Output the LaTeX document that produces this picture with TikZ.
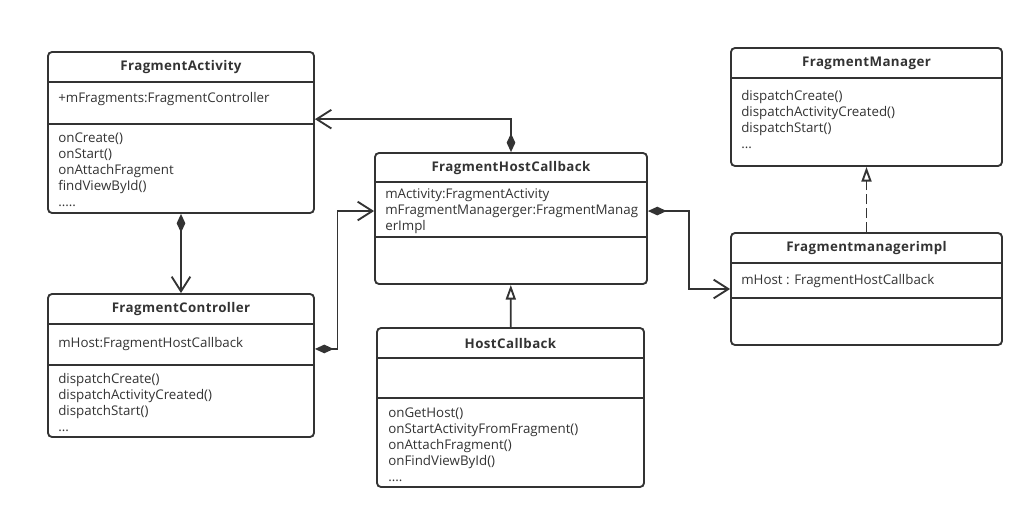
\documentclass[tikz,border=0pt]{standalone}
\usepackage{fontspec}
\setmainfont{Open Sans}
\usetikzlibrary{arrows.meta,fit}
\definecolor{ink}{HTML}{333333}

\begin{document}
\begin{tikzpicture}[x=0.75pt,y=-0.75pt,
    box/.style={draw=ink, line width=1.4pt, rounded corners=3pt, inner sep=0pt},
    sep/.style={draw=ink, line width=1.4pt},
    head/.style={font=\fontsize{10}{12}\selectfont\bfseries\addfontfeature{LetterSpace=3}, text=ink, inner sep=0pt},
    body/.style={font=\fontsize{10}{12}\selectfont, text=ink, anchor=base west, inner sep=0pt},
    comp/.style={draw=ink, line width=1.4pt, {Diamond[length=14pt,width=6.5pt]}-{Straight Barb[length=11pt,width=14pt]}},
    inherit/.style={draw=ink, line width=1.4pt, -{Triangle[open, length=11pt, width=7.5pt]}},
    realize/.style={inherit, dash pattern=on 7.5pt off 3pt},
  ]
  \useasboundingbox (0,0) rectangle (1035,520);

  % FragmentActivity
  \node[box, fit={(48,52)(314,213)}] (fa) {};
  \draw[sep] (fa.west |- 0,82) -- (fa.east |- 0,82) (fa.west |- 0,124) -- (fa.east |- 0,124);
  \node[head] (fa-t) at (fa.north |- 0,67) {FragmentActivity};
  \node[body] (fa-a) at (58,103) {+mFragments:FragmentController};
  \foreach \t [count=\i] in {onCreate(),onStart(),onAttachFragment,findViewById()}
    \node[body] (fa-m\i) at (58,127+16*\i) {\t};
  \node[body] (fa-m5) at (58,207) {.....};

  % FragmentController
  \node[box, fit={(48,294)(314,437)}] (fc) {};
  \draw[sep] (fc.west |- 0,324) -- (fc.east |- 0,324) (fc.west |- 0,365) -- (fc.east |- 0,365);
  \node[head] (fc-t) at (fc.north |- 0,309) {FragmentController};
  \node[body] (fc-a) at (58,347) {mHost:FragmentHostCallback};
  \foreach \t [count=\i] in {dispatchCreate(),dispatchActivityCreated(),dispatchStart()}
    \node[body] (fc-m\i) at (58,367+16*\i) {\t};
  \node[body] (fc-m4) at (58,431) {...};

  % FragmentHostCallback
  \node[box, fit={(375,153)(647,284)}] (fhc) {};
  \draw[sep] (fhc.west |- 0,182) -- (fhc.east |- 0,182) (fhc.west |- 0,237) -- (fhc.east |- 0,237);
  \node[head] (fhc-t) at (fhc.north |- 0,168) {FragmentHostCallback};
  \foreach \t [count=\i] in {mActivity:FragmentActivity,mFragmentManagerger:FragmentManag,erImpl}
    \node[body] (fhc-a\i) at (385,183+16*\i) {\t};

  % HostCallback
  \node[box, fit={(377,328)(644,487)}] (hc) {};
  \draw[sep] (hc.west |- 0,358) -- (hc.east |- 0,358) (hc.west |- 0,398) -- (hc.east |- 0,398);
  \node[head] (hc-t) at (hc.north |- 0,343) {HostCallback};
  \foreach \t [count=\i] in {onGetHost(),onStartActivityFromFragment(),onAttachFragment(),onFindViewById()}
    \node[body] (hc-m\i) at (388,401+16*\i) {\t};
  \node[body] (hc-m5) at (388,481) {....};

  % FragmentManager
  \node[box, fit={(731,48)(1002,166)}] (fm) {};
  \draw[sep] (fm.west |- 0,78) -- (fm.east |- 0,78);
  \node[head] (fm-t) at (fm.north |- 0,63) {FragmentManager};
  \foreach \t [count=\i] in {dispatchCreate(),dispatchActivityCreated(),dispatchStart()}
    \node[body] (fm-m\i) at (741,85+16*\i) {\t};
  \node[body] (fm-m4) at (741,149) {...};

  % Fragmentmanagerimpl
  \node[box, fit={(731,233)(1002,345)}] (fmi) {};
  \draw[sep] (fmi.west |- 0,263) -- (fmi.east |- 0,263) (fmi.west |- 0,298) -- (fmi.east |- 0,298);
  \node[head] (fmi-t) at (fmi.north |- 0,248) {Fragmentmanagerimpl};
  \node[body] (fmi-a) at (741,285) {mHost : FragmentHostCallback};

  % connectors
  \draw[comp] (fhc.north) |- ([yshift=10pt]fa.east);
  \draw[comp] (fa.south) -- (fc.north);
  \draw[comp] ([yshift=12.4pt]fc.east) -- ++(22.5,0) |- ([yshift=5.6pt]fhc.west);
  \draw[comp] ([yshift=5.6pt]fhc.east) -- ++(41,0) |- (fmi.west);
  \draw[inherit] (hc) -- (fhc);
  \draw[realize] (fmi) -- (fm);
\end{tikzpicture}
\end{document}
